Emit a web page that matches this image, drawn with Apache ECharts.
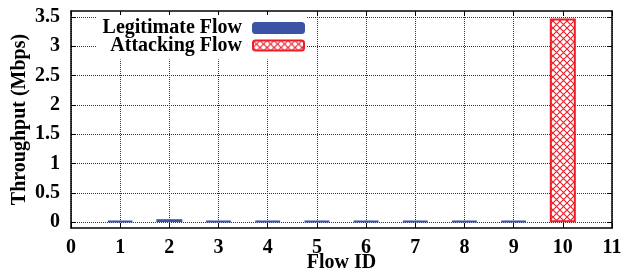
<!DOCTYPE html>
<html>
<head>
<meta charset="utf-8">
<script src="https://cdn.jsdelivr.net/npm/echarts@6/dist/echarts.min.js"></script>
<style>
  html, body { margin: 0; padding: 0; background: #fff; }
  #chart { width: 628px; height: 274px; }
</style>
</head>
<body>
<div id="chart"></div>
<script>
const flowIds = [1, 2, 3, 4, 5, 6, 7, 8, 9, 10];
const legitimate = [0.025, 0.05, 0.02, 0.02, 0.02, 0.02, 0.02, 0.02, 0.02, null];
const attacking = [null, null, null, null, null, null, null, null, null, 3.47];
const yTicks = [0, 0.5, 1, 1.5, 2, 2.5, 3, 3.5];

const blue = '#3a53a4';
const red = '#ef1d27';

// cross-hatch fill for the attacking bar
function hatch() {
  const c = document.createElement('canvas');
  c.width = 7; c.height = 7;
  const ctx = c.getContext('2d');
  ctx.fillStyle = '#fff';
  ctx.fillRect(0, 0, 7, 7);
  ctx.strokeStyle = red;
  ctx.lineWidth = 1.1;
  ctx.beginPath();
  ctx.moveTo(-1, -1); ctx.lineTo(8, 8);
  ctx.moveTo(8, -1); ctx.lineTo(-1, 8);
  ctx.stroke();
  return c;
}

const font = 'Liberation Serif';
const txt = { fontFamily: font, fontWeight: 'bold', fontSize: 20, color: '#000' };
const chart = echarts.init(document.getElementById('chart'), null, { renderer: 'canvas' });

const pairs = arr => flowIds.map((x, i) => [x, arr[i]]).filter(d => d[1] != null);

const option = {
  animation: false,
  grid: { left: 71, right: 16, top: 11, bottom: 46, outerBoundsMode: 'none' },
  legend: {
    orient: 'vertical',
    align: 'right',
    right: 321,
    top: 15,
    padding: [3, 2, 4, 6],
    itemGap: -2.5,
    itemWidth: 51,
    itemHeight: 10,
    backgroundColor: '#fff',
    textStyle: Object.assign({}, txt, { lineHeight: 18, padding: [0, 6, 0, 0] }),
    data: ['Legitimate Flow', 'Attacking Flow']
  },
  xAxis: [{
    type: 'value', min: 0, max: 11, interval: 1,
    name: 'Flow ID', nameLocation: 'middle', nameGap: 25, nameMoveOverlap: false,
    nameTextStyle: txt,
    axisLine: { onZero: false, lineStyle: { color: '#000', width: 1.5 } },
    axisTick: { inside: true, length: 5, lineStyle: { color: '#000' } },
    axisLabel: Object.assign({ margin: 10 }, txt),
    splitLine: { show: true, lineStyle: { type: 'dotted', color: '#333', width: 1 } }
  }, {
    type: 'value', min: 0, max: 11, interval: 1, position: 'top',
    axisLine: { onZero: false, lineStyle: { color: '#000', width: 1.5 } },
    axisTick: { inside: true, length: 5, lineStyle: { color: '#000' } },
    axisLabel: { show: false },
    splitLine: { show: false }
  }],
  yAxis: [{
    type: 'value', min: -0.1, max: 3.6,
    name: 'Throughput (Mbps)', nameLocation: 'middle', nameGap: 41, nameMoveOverlap: false,
    nameTextStyle: txt,
    axisLine: { show: true, onZero: false, lineStyle: { color: '#000', width: 1.5 } },
    axisTick: { show: true, inside: true, length: 5, customValues: yTicks, lineStyle: { color: '#000' } },
    axisLabel: Object.assign({ margin: 11, customValues: yTicks }, txt),
    splitLine: { show: true, lineStyle: { type: 'dotted', color: '#333', width: 1 } }
  }, {
    type: 'value', min: -0.1, max: 3.6, position: 'right',
    axisLine: { show: true, onZero: false, lineStyle: { color: '#000', width: 1.5 } },
    axisTick: { show: true, inside: true, length: 5, customValues: yTicks, lineStyle: { color: '#000' } },
    axisLabel: { show: false, customValues: yTicks },
    splitLine: { show: false }
  }],
  series: [{
    name: 'Legitimate Flow',
    type: 'bar',
    barWidth: 26,
    barGap: '-100%',
    itemStyle: { color: blue, borderColor: blue, borderWidth: 2 },
    data: pairs(legitimate)
  }, {
    name: 'Attacking Flow',
    type: 'bar',
    barWidth: 26,
    barGap: '-100%',
    itemStyle: { color: { image: hatch(), repeat: 'repeat' }, borderColor: red, borderWidth: 2 },
    data: pairs(attacking)
  }]
};
chart.setOption(option);
</script>
</body>
</html>
